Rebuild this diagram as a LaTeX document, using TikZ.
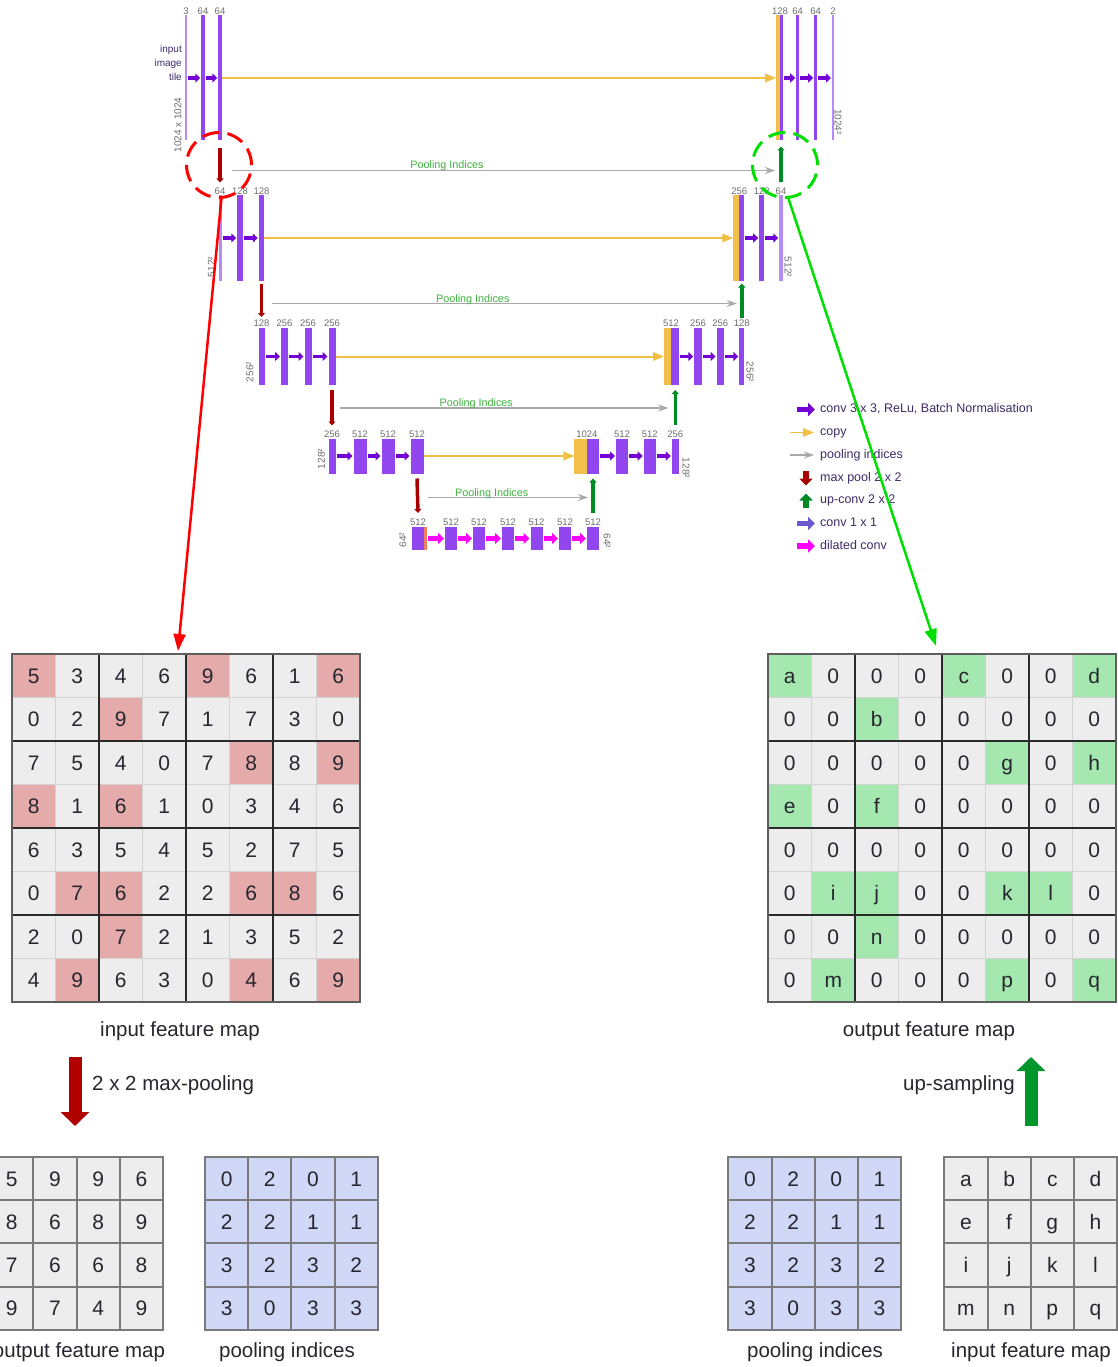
\documentclass[tikz,border=0pt]{standalone}
\usepackage{fontspec}
\setmainfont{Liberation Sans}
\usetikzlibrary{arrows.meta,positioning,calc}
\definecolor{barpurple}{HTML}{9146F0}
\definecolor{barlight}{HTML}{B48CF5}
\definecolor{orangebar}{HTML}{F2C04A}
\definecolor{tilestripe}{HTML}{F08060}
\definecolor{convpurple}{HTML}{7300D4}
\definecolor{copyorange}{HTML}{F2BF45}
\definecolor{poolgray}{HTML}{A8A8A8}
\definecolor{maxred}{HTML}{A80000}
\definecolor{upgreen}{HTML}{008C25}
\definecolor{dilmagenta}{HTML}{FF00FF}
\definecolor{convblue}{HTML}{6A5ACD}
\definecolor{labelgray}{HTML}{6E6E6E}
\definecolor{pitext}{HTML}{3DB33D}
\definecolor{legtext}{HTML}{3F2B66}
\definecolor{cellgray}{HTML}{EDEDED}
\definecolor{cellline}{HTML}{D3D3D3}
\definecolor{blockline}{HTML}{2A2A2A}
\definecolor{gridborder}{HTML}{5E5E5E}
\definecolor{smallline}{HTML}{7A7A7A}
\definecolor{pinkcell}{HTML}{E5AAAA}
\definecolor{greencell}{HTML}{A5E8AF}
\definecolor{bluecell}{HTML}{D1D7F6}
\definecolor{celltext}{HTML}{26262E}
\definecolor{ptred}{HTML}{FF0000}
\definecolor{ptgreen}{HTML}{00E000}
\definecolor{bigred}{HTML}{B00000}
\definecolor{biggreen}{HTML}{00962B}
\newcommand\maxcells{0/0,0/4,0/7,1/2,2/5,2/7,3/0,3/2,5/1,5/2,5/5,5/6,6/2,7/1,7/5,7/7}

\begin{document}
\begin{tikzpicture}[x=1pt,y=-1pt,
  bar/.style 2 args={rectangle,inner sep=0pt,outer sep=0pt,minimum width=#1,minimum height=#2,fill=barpurple},
  chl/.style={font=\fontsize{9.5}{11}\selectfont,text=labelgray,inner sep=1pt},
  diml/.style={font=\fontsize{10}{12}\selectfont,text=labelgray,inner sep=0pt},
  itx/.style={anchor=east,align=right,font=\fontsize{10}{14}\selectfont,text=legtext,inner sep=0pt},
  conv/.style={draw=convpurple,line width=3.5pt,-{Triangle[length=5pt,width=9pt]},shorten <=1pt,shorten >=1pt},
  dil/.style={conv,draw=dilmagenta,line width=4.5pt,-{Triangle[length=6pt,width=11pt]}},
  cpy/.style={draw=copyorange,line width=2pt,-{Triangle[length=11pt,width=8.5pt]}},
  pidx/.style={draw=poolgray,line width=1.5pt,-{Stealth[length=10pt,width=7pt]}},
  pil/.style={font=\fontsize{10.8}{12}\selectfont,text=pitext,anchor=base,inner sep=0pt,yshift=1.5pt},
  mpool/.style={draw=maxred,line width=3.5pt,-{Triangle[length=4pt,width=7pt]}},
  upc/.style={draw=upgreen,line width=3.5pt,-{Triangle[length=4pt,width=7pt]}},
  lgt/.style={anchor=west,inner sep=0pt,font=\fontsize{12.5}{14}\selectfont,text=legtext,text height=9pt,text depth=2.5pt},
  lgi/.style={line width=5.5pt,-{Triangle[length=7pt,width=13pt]}},
  bcell/.style={rectangle,draw=cellline,line width=1.5pt,minimum size=43.5pt,inner sep=0pt,outer sep=0pt,
    font=\fontsize{21}{24}\selectfont,text=celltext,text height=15pt,text depth=0pt},
  scell/.style={bcell,draw=smallline,line width=2pt,minimum size=43.2pt},
  blockln/.style={draw=blockline,line width=1.8pt},
  gridbd/.style={draw=gridborder,line width=2.5pt},
  capt/.style={font=\fontsize{20.5}{24}\selectfont,text=celltext,inner sep=0pt},
  rcirc/.style={circle,draw=ptred,line width=3pt,dash pattern=on 17pt off 8.5pt,minimum size=65pt,inner sep=0pt},
  gcirc/.style={rcirc,draw=ptgreen},
  ptr/.style={line width=2.5pt,-{Triangle[length=17pt,width=12pt]}},
  bigarr/.style={line width=13pt,-{Triangle[length=14pt,width=28pt]}}]
\useasboundingbox (0,0) rectangle (1117,1367);
\fill[white] (0,0) rectangle (1117,1367);

% level 1
\foreach \nm/\x/\w/\cl/\lb in {l1a/186/2/barlight/3,l1b/203/3.5/barpurple/64,l1c/220/3.5/barpurple/64,
    r1b/797.7/3/barpurple/64,r1c/815.7/3/barpurple/64,r1d/833/2/barlight/2}
  {\node[bar={\w}{125},fill=\cl] (\nm) at (\x,78) {};
   \node[chl,above=0pt of \nm] (\nm-t) {\lb};}
\node[bar={4}{125},fill=orangebar] (r1o) at (778,78) {};
\node[bar={3}{125}] (r1a) at (781,78) {};
\node[chl,above=0pt of r1o.north east] (r1o-t) {128};
\node[itx] (tile) at (182,63) {input\\image\\tile};

% level 2
\foreach \nm/\x/\w/\cl/\lb in {l2a/220/3/barlight/64,l2b/240/5.5/barpurple/128,l2c/261.5/5.5/barpurple/128,
    r2b/761.7/5/barpurple/128,r2c/781/3.5/barlight/64}
  {\node[bar={\w}{85},fill=\cl] (\nm) at (\x,238) {};
   \node[chl,above=0pt of \nm] (\nm-t) {\lb};}
\node[bar={6}{85},fill=orangebar] (r2o) at (736.3,238) {};
\node[bar={5}{85}] (r2a) at (741.8,238) {};
\node[chl,above=0pt of r2o.north east] (r2o-t) {256};

% level 3
\foreach \nm/\x/\w/\lb in {l3a/261.5/6/128,l3b/284.5/7/256,l3c/308/7/256,l3d/332/7/256,
    r3b/698/7.5/256,r3c/720.3/7.5/256,r3d/741.8/5/128}
  {\node[bar={\w}{57}] (\nm) at (\x,356.5) {};
   \node[chl,above=0pt of \nm] (\nm-t) {\lb};}
\node[bar={7}{57},fill=orangebar] (r3o) at (667.5,356.5) {};
\node[bar={8}{57}] (r3a) at (675.3,356.5) {};
\node[chl,above=0pt of r3o.north east] (r3o-t) {512};

% level 4
\foreach \nm/\x/\w/\lb in {l4a/332/7/256,l4b/360/13/512,l4c/388/13/512,l4d/417/13/512,
    r4b/622/12/512,r4c/649.7/12/512,r4d/675.3/7/256}
  {\node[bar={\w}{35}] (\nm) at (\x,456) {};
   \node[chl,above=0pt of \nm] (\nm-t) {\lb};}
\node[bar={12.5}{35},fill=orangebar] (r4o) at (580.7,456) {};
\node[bar={12}{35}] (r4a) at (593,456) {};
\node[chl,above=0pt of r4o.north east] (r4o-t) {1024};

% bottleneck
\foreach \nm/\x in {b5a/418,b5b/451,b5c/479,b5d/508,b5e/536.5,b5f/565,b5g/593}
  {\node[bar={12}{23}] (\nm) at (\x,538.5) {};
   \node[chl,above=0pt of \nm] (\nm-t) {512};}
\node[bar={2.6}{23},fill=tilestripe] (b5s) at (425.3,538.5) {};

\node[diml,rotate=90] (d1l) at (178,125) {1024 x 1024};
\node[diml,rotate=-90] (d1r) at (838,122) {1024²};
\node[diml,rotate=90] (d2l) at (211.5,267) {512²};
\node[diml,rotate=-90] (d2r) at (788,267) {512²};
\node[diml,rotate=90] (d3l) at (250,372) {256²};
\node[diml,rotate=-90] (d3r) at (750,372) {256²};
\node[diml,rotate=90] (d4l) at (321.5,459) {128²};
\node[diml,rotate=-90] (d4r) at (686,468) {128²};
\node[diml,rotate=90] (d5l) at (403,540) {64²};
\node[diml,rotate=-90] (d5r) at (607,541) {64²};

\foreach \a/\b in {l1a/l1b,l1b/l1c,r1a/r1b,r1b/r1c,r1c/r1d,l2a/l2b,l2b/l2c,r2a/r2b,r2b/r2c,
    l3a/l3b,l3b/l3c,l3c/l3d,r3a/r3b,r3b/r3c,r3c/r3d,l4a/l4b,l4b/l4c,l4c/l4d,r4a/r4b,r4b/r4c,r4c/r4d}
  \draw[conv] (\a) -- (\b);
\foreach \a/\b in {b5s/b5b,b5b/b5c,b5c/b5d,b5d/b5e,b5e/b5f,b5f/b5g}
  \draw[dil] (\a) -- (\b);
\foreach \a/\b in {l1c/r1o,l2c/r2o,l3d/r3o,l4d/r4o}
  \draw[cpy] (\a) -- (\b);

\draw[pidx] ($(l1c.south)+(12,30)$) -- node[pil,pos=0.396] (pi1) {Pooling Indices} ($(r1a.south)+(-6,30)$);
\draw[pidx] ($(l2c.south)+(10.5,23)$) -- node[pil,pos=0.432] (pi2) {Pooling Indices} ($(r2a.south)+(-5,23)$);
\draw[pidx] ($(l3d.south)+(8,23)$) -- node[pil,pos=0.415] (pi3) {Pooling Indices} ($(r3a.south)+(-7,23)$);
\draw[pidx] ($(l4d.south)+(11,24)$) -- node[pil,pos=0.398] (pi4) {Pooling Indices} ($(r4a.south)+(-5,24)$);

\draw[mpool] ([yshift=-8pt]l1c.south) -- ([yshift=13pt]l2a.north);
\draw[mpool] ([yshift=-3pt]l2c.south) -- ([yshift=11pt]l3a.north);
\draw[mpool] ([yshift=-5pt]l3d.south) -- ([yshift=13pt]l4a.north);
\draw[mpool] ([yshift=-5pt]l4d.south) -- ([yshift=14pt]b5a.north);
\draw[upc] ([yshift=13pt]r2c.north) -- ([yshift=-6pt]r1a.south);
\draw[upc] ([yshift=10pt]r3d.north) -- ([yshift=-3pt]r2a.south);
\draw[upc] ([yshift=14pt]r4d.north) -- ([yshift=-5pt]r3a.south);
\draw[upc] ([yshift=14pt]b5g.north) -- ([yshift=-5pt]r4a.south);

% legend
\node[lgt] (lgconv) at (820,409.5) {conv 3 x 3, ReLu, Batch Normalisation};
\node[lgt] (lgcopy) at (820,432.5) {copy};
\node[lgt] (lgpool) at (820,455) {pooling indices};
\node[lgt] (lgmax) at (820,478) {max pool 2 x 2};
\node[lgt] (lgup) at (820,500.5) {up-conv 2 x 2};
\node[lgt] (lgone) at (820,523.5) {conv 1 x 1};
\node[lgt] (lgdil) at (820,546) {dilated conv};
\draw[lgi,draw=convpurple] ([xshift=-23pt]lgconv.west) -- ([xshift=-5pt]lgconv.west);
\draw[cpy,line width=1.5pt] ([xshift=-30pt]lgcopy.west) -- ([xshift=-6pt]lgcopy.west);
\draw[pidx] ([xshift=-30pt]lgpool.west) -- ([xshift=-6pt]lgpool.west);
\draw[lgi,draw=maxred,line width=6.5pt] ([xshift=-14pt,yshift=7pt]lgmax.west) -- ([xshift=-14pt,yshift=-7.5pt]lgmax.west);
\draw[lgi,draw=upgreen,line width=6.5pt] ([xshift=-14pt,yshift=-7.5pt]lgup.west) -- ([xshift=-14pt,yshift=7pt]lgup.west);
\draw[lgi,draw=convblue] ([xshift=-23pt]lgone.west) -- ([xshift=-5pt]lgone.west);
\draw[lgi,draw=dilmagenta] ([xshift=-23pt]lgdil.west) -- ([xshift=-5pt]lgdil.west);

% input feature map
\fill[cellgray] (12,654) rectangle ++(348,348);
\foreach \r/\c in \maxcells
  \fill[pinkcell] (12+\c*43.5,654+\r*43.5) rectangle ++(43.5,43.5);
\foreach \row [count=\r from 0] in {{5,3,4,6,9,6,1,6},{0,2,9,7,1,7,3,0},{7,5,4,0,7,8,8,9},{8,1,6,1,0,3,4,6},
    {6,3,5,4,5,2,7,5},{0,7,6,2,2,6,8,6},{2,0,7,2,1,3,5,2},{4,9,6,3,0,4,6,9}}
  \foreach \v [count=\c from 0] in \row
    \node[bcell] (in-\r-\c) at (33.75+\c*43.5,675.75+\r*43.5) {\v};
\foreach \k in {1,3,5}
  {\draw[blockln] (in-0-\k.north east) -- (in-7-\k.south east);
   \draw[blockln] (in-\k-0.south west) -- (in-\k-7.south east);}
\draw[gridbd] (in-0-0.north west) rectangle (in-7-7.south east);
\node[capt] (incap) at (180,1031) {input feature map};

% output feature map
\fill[cellgray] (768,654) rectangle ++(348,348);
\foreach \r/\c in \maxcells
  \fill[greencell] (768+\c*43.5,654+\r*43.5) rectangle ++(43.5,43.5);
\foreach \row [count=\r from 0] in {{a,0,0,0,c,0,0,d},{0,0,b,0,0,0,0,0},{0,0,0,0,0,g,0,h},{e,0,f,0,0,0,0,0},
    {0,0,0,0,0,0,0,0},{0,i,j,0,0,k,l,0},{0,0,n,0,0,0,0,0},{0,m,0,0,0,p,0,q}}
  \foreach \v [count=\c from 0] in \row
    \node[bcell] (out-\r-\c) at (789.75+\c*43.5,675.75+\r*43.5) {\v};
\foreach \k in {1,3,5}
  {\draw[blockln] (out-0-\k.north east) -- (out-7-\k.south east);
   \draw[blockln] (out-\k-0.south west) -- (out-\k-7.south east);}
\draw[gridbd] (out-0-0.north west) rectangle (out-7-7.south east);
\node[capt] (outcap) at (929,1031) {output feature map};

% pooling / unpooling
\coordinate (mptop) at (75,1057);
\coordinate (mpend) at (75,1126);
\draw[bigarr,draw=bigred] (mptop) -- (mpend);
\node[capt,anchor=west] (mplbl) at (92,1085) {2 x 2 max-pooling};
\coordinate (upbot) at (1031,1126);
\coordinate (uptip) at (1031,1057);
\draw[bigarr,draw=biggreen] (upbot) -- (uptip);
\node[capt,anchor=east] (uplbl) at (1015,1085) {up-sampling};

\foreach \row [count=\r from 0] in {{5,9,9,6},{8,6,8,9},{7,6,6,8},{9,7,4,9}}
  \foreach \v [count=\c from 0] in \row
    \node[scell,fill=cellgray] (om-\r-\c) at (11.8+\c*43.2,1178.6+\r*43.2) {\v};
\foreach \g/\gx in {pl/226.6,pr/749.9}
  \foreach \row [count=\r from 0] in {{0,2,0,1},{2,2,1,1},{3,2,3,2},{3,0,3,3}}
    \foreach \v [count=\c from 0] in \row
      \node[scell,fill=bluecell] (\g-\r-\c) at (\gx+\c*43.2,1178.6+\r*43.2) {\v};
\foreach \row [count=\r from 0] in {{a,b,c,d},{e,f,g,h},{i,j,k,l},{m,n,p,q}}
  \foreach \v [count=\c from 0] in \row
    \node[scell,fill=cellgray] (im-\r-\c) at (965.9+\c*43.2,1178.6+\r*43.2) {\v};
\node[capt] (omcap) at (79,1352) {output feature map};
\node[capt] (plcap) at (287,1352) {pooling indices};
\node[capt] (prcap) at (815,1352) {pooling indices};
\node[capt] (imcap) at (1031,1352) {input feature map};

% zoom pointers
\node[rcirc] (rc) at (219,165) {};
\node[gcirc] (gc) at (785,165) {};
\coordinate (ingrid) at (178,651);
\coordinate (outgrid) at (936,646);
\draw[ptr,draw=ptred] (rc.-86) -- (ingrid);
\draw[ptr,draw=ptgreen] (gc.-84) -- (outgrid);
\end{tikzpicture}
\end{document}
